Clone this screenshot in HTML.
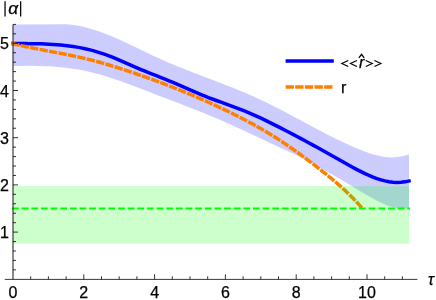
<!DOCTYPE html>
<html><head><meta charset="utf-8"><style>
html,body{margin:0;padding:0;background:#fff;}
svg{display:block;will-change:transform}
text{font-family:"Liberation Sans",sans-serif;font-size:16px;fill:#000;stroke:#000;stroke-width:0.25px}
</style></head><body>
<svg width="436" height="300" viewBox="0 0 436 300">
<rect width="436" height="300" fill="#fff"/>
<path d="M13.00,24.40 L66.00,24.31 L69.46,24.57 L72.93,24.96 L76.39,25.47 L79.86,26.10 L83.32,26.85 L86.79,27.69 L90.25,28.64 L93.72,29.68 L97.18,30.81 L100.65,32.02 L104.11,33.30 L107.58,34.65 L111.04,36.06 L114.51,37.52 L117.97,39.04 L121.43,40.59 L124.90,42.18 L128.36,43.80 L131.83,45.44 L135.29,47.09 L138.76,48.76 L142.22,50.43 L145.69,52.09 L149.15,53.75 L152.62,55.39 L156.08,57.00 L159.55,58.59 L163.01,60.15 L166.47,61.67 L169.94,63.15 L173.40,64.61 L176.87,66.05 L180.33,67.46 L183.80,68.85 L187.26,70.22 L190.73,71.58 L194.19,72.92 L197.66,74.26 L201.12,75.58 L204.59,76.91 L208.05,78.22 L211.52,79.54 L214.98,80.87 L218.44,82.19 L221.91,83.53 L225.37,84.88 L228.84,86.24 L232.30,87.61 L235.77,89.01 L239.23,90.42 L242.70,91.86 L246.16,93.33 L249.63,94.82 L253.09,96.35 L256.56,97.91 L260.02,99.51 L263.48,101.15 L266.95,102.82 L270.41,104.53 L273.88,106.27 L277.34,108.03 L280.81,109.82 L284.27,111.62 L287.74,113.45 L291.20,115.29 L294.67,117.13 L298.13,118.99 L301.60,120.84 L305.06,122.70 L308.53,124.56 L311.99,126.41 L315.45,128.25 L318.92,130.07 L322.38,131.89 L325.85,133.68 L329.31,135.45 L332.78,137.19 L336.24,138.91 L339.71,140.59 L343.17,142.24 L346.64,143.85 L350.10,145.41 L353.57,146.93 L357.03,148.41 L360.49,149.83 L363.96,151.19 L367.42,152.47 L370.89,153.65 L374.35,154.71 L377.82,155.62 L381.28,156.36 L384.75,156.92 L388.21,157.26 L391.68,157.38 L395.14,157.24 L398.61,156.87 L402.07,156.27 L405.54,155.46 L409.00,154.48 L409.00,207.40 L405.00,208.14 L401.00,208.30 L397.00,207.94 L393.00,207.13 L389.00,205.93 L385.00,204.41 L381.00,202.62 L377.00,200.63 L373.00,198.50 L369.00,196.28 L365.00,193.99 L361.00,191.64 L357.00,189.25 L353.00,186.84 L349.00,184.42 L345.00,182.02 L341.00,179.62 L337.00,177.25 L333.00,174.90 L329.00,172.57 L325.00,170.28 L321.00,168.02 L317.00,165.81 L313.00,163.63 L309.00,161.51 L305.00,159.44 L301.00,157.42 L297.00,155.47 L293.00,153.57 L289.00,151.70 L285.00,149.86 L281.00,148.02 L277.00,146.17 L273.00,144.31 L269.00,142.43 L265.00,140.56 L261.00,138.68 L257.00,136.79 L253.00,134.91 L249.00,133.04 L245.00,131.18 L241.00,129.32 L237.00,127.48 L233.00,125.66 L229.00,123.86 L225.00,122.08 L221.00,120.32 L217.00,118.60 L213.00,116.90 L209.00,115.23 L205.00,113.58 L201.00,111.96 L197.00,110.35 L193.00,108.76 L189.00,107.19 L185.00,105.63 L181.00,104.08 L177.00,102.54 L173.00,101.01 L169.00,99.48 L165.00,97.96 L161.00,96.43 L157.00,94.91 L153.00,93.38 L149.00,91.84 L145.00,90.30 L141.00,88.76 L137.00,87.23 L133.00,85.71 L129.00,84.21 L125.00,82.73 L121.00,81.29 L117.00,79.89 L113.00,78.53 L109.00,77.22 L105.00,75.97 L101.00,74.79 L97.00,73.67 L93.00,72.63 L89.00,71.68 L85.00,70.81 L81.00,70.03 L77.00,69.32 L73.00,68.69 L69.00,68.14 L65.00,67.65 L61.00,67.24 L57.00,66.88 L53.00,66.58 L49.00,66.34 L45.00,66.15 L41.00,66.01 L37.00,65.91 L33.00,65.85 L29.00,65.84 L25.00,65.85 L21.00,65.90 L17.00,65.97 L13.00,66.07Z" fill="#0000ff" fill-opacity="0.2"/>
<path d="M13.00,43.57 L17.00,43.59 L21.00,43.60 L25.00,43.62 L29.00,43.65 L33.00,43.70 L37.00,43.77 L41.00,43.87 L45.00,44.00 L49.00,44.18 L53.00,44.40 L57.00,44.68 L61.00,45.02 L65.00,45.43 L69.00,45.91 L73.00,46.47 L77.00,47.12 L81.00,47.86 L85.00,48.69 L89.00,49.63 L93.00,50.67 L97.00,51.81 L101.00,53.06 L105.00,54.42 L109.00,55.90 L113.00,57.49 L117.00,59.17 L121.00,60.91 L125.00,62.68 L129.00,64.44 L133.00,66.17 L137.00,67.86 L141.00,69.52 L145.00,71.15 L149.00,72.77 L153.00,74.37 L157.00,75.97 L161.00,77.57 L165.00,79.18 L169.00,80.81 L173.00,82.47 L177.00,84.15 L181.00,85.88 L185.00,87.64 L189.00,89.41 L193.00,91.18 L197.00,92.91 L201.00,94.59 L205.00,96.20 L209.00,97.76 L213.00,99.26 L217.00,100.74 L221.00,102.19 L225.00,103.64 L229.00,105.09 L233.00,106.55 L237.00,108.05 L241.00,109.58 L245.00,111.16 L249.00,112.81 L253.00,114.53 L257.00,116.32 L261.00,118.18 L265.00,120.10 L269.00,122.06 L273.00,124.06 L277.00,126.09 L281.00,128.15 L285.00,130.22 L289.00,132.30 L293.00,134.41 L297.00,136.52 L301.00,138.65 L305.00,140.80 L309.00,142.96 L313.00,145.13 L317.00,147.32 L321.00,149.52 L325.00,151.74 L329.00,153.97 L333.00,156.21 L337.00,158.46 L341.00,160.73 L345.00,163.00 L349.00,165.25 L353.00,167.47 L357.00,169.61 L361.00,171.67 L365.00,173.62 L369.00,175.44 L373.00,177.10 L377.00,178.57 L381.00,179.84 L385.00,180.88 L389.00,181.67 L393.00,182.19 L397.00,182.40 L401.00,182.29 L405.00,181.84 L409.00,181.01" fill="none" stroke="#0000ff" stroke-width="3.5" stroke-linecap="square"/>
<path d="M13.00,43.78 L13.94,44.00 L14.88,44.22 L15.82,44.44 L16.76,44.65 L17.70,44.87 M22.40,45.91 L23.34,46.11 L24.29,46.31 L25.23,46.51 L26.17,46.71 L27.12,46.90 M31.84,47.86 L32.79,48.05 L33.73,48.24 L34.68,48.43 L35.62,48.61 L36.57,48.80 M41.30,49.71 L42.25,49.89 L43.20,50.07 L44.14,50.25 L45.09,50.43 L46.04,50.60 M50.78,51.50 L51.72,51.68 L52.67,51.85 L53.62,52.03 L54.56,52.21 L55.51,52.39 M60.25,53.30 L61.19,53.48 L62.14,53.66 L63.08,53.85 L64.03,54.03 L64.98,54.22 M69.70,55.17 L70.65,55.36 L71.59,55.56 L72.53,55.75 L73.48,55.95 L74.42,56.15 M79.13,57.17 L80.07,57.38 L81.01,57.59 L81.95,57.80 L82.89,58.02 L83.83,58.24 M88.52,59.36 L89.46,59.59 L90.39,59.83 L91.33,60.06 L92.26,60.30 L93.19,60.54 M97.85,61.78 L98.78,62.04 L99.71,62.30 L100.64,62.56 L101.56,62.82 L102.49,63.08 M107.12,64.43 L108.04,64.70 L108.97,64.98 L109.89,65.26 L110.81,65.54 L111.74,65.82 M116.34,67.25 L117.26,67.54 L118.18,67.83 L119.09,68.12 L120.01,68.42 L120.93,68.71 M125.51,70.21 L126.43,70.51 L127.34,70.82 L128.26,71.12 L129.17,71.43 L130.08,71.73 M134.65,73.28 L135.56,73.59 L136.47,73.91 L137.38,74.22 L138.29,74.54 L139.21,74.85 M143.75,76.45 L144.66,76.77 L145.57,77.09 L146.48,77.42 L147.39,77.74 L148.29,78.07 M152.83,79.71 L153.73,80.04 L154.64,80.37 L155.54,80.70 L156.45,81.04 L157.35,81.37 M161.86,83.07 L162.76,83.41 L163.67,83.75 L164.57,84.09 L165.47,84.44 L166.37,84.78 M170.86,86.52 L171.76,86.87 L172.66,87.23 L173.55,87.58 L174.45,87.93 L175.35,88.29 M179.82,90.08 L180.71,90.44 L181.61,90.81 L182.50,91.17 L183.39,91.53 L184.28,91.90 M188.74,93.74 L189.63,94.11 L190.52,94.49 L191.40,94.86 L192.29,95.24 L193.18,95.61 M197.61,97.51 L198.50,97.89 L199.38,98.27 L200.27,98.66 L201.15,99.04 L202.03,99.43 M206.44,101.38 L207.32,101.77 L208.20,102.17 L209.08,102.56 L209.96,102.96 L210.84,103.36 M215.22,105.36 L216.10,105.76 L216.97,106.17 L217.85,106.57 L218.72,106.98 L219.59,107.39 M223.95,109.44 L224.82,109.86 L225.69,110.27 L226.56,110.69 L227.43,111.11 L228.30,111.53 M232.63,113.65 L233.49,114.08 L234.35,114.50 L235.22,114.94 L236.08,115.37 L236.94,115.80 M241.23,117.99 L242.09,118.43 L242.95,118.88 L243.80,119.32 L244.66,119.77 L245.51,120.22 M249.76,122.48 L250.61,122.94 L251.46,123.40 L252.30,123.87 L253.15,124.33 L253.99,124.79 M258.20,127.15 L259.04,127.63 L259.87,128.10 L260.71,128.58 L261.54,129.07 L262.38,129.55 M266.53,132.00 L267.36,132.49 L268.18,132.99 L269.01,133.49 L269.83,133.99 L270.65,134.49 M274.75,137.03 L275.56,137.55 L276.38,138.06 L277.19,138.58 L278.00,139.10 L278.81,139.63 M282.84,142.27 L283.65,142.80 L284.45,143.34 L285.25,143.88 L286.05,144.42 L286.84,144.96 M290.81,147.69 L291.60,148.24 L292.39,148.80 L293.18,149.35 L293.97,149.91 L294.76,150.46 M298.67,153.27 L299.45,153.84 L300.23,154.41 L301.01,154.98 L301.79,155.55 L302.57,156.12 M306.44,158.99 L307.21,159.57 L307.98,160.15 L308.75,160.73 L309.52,161.31 L310.29,161.89 M314.12,164.81 L314.88,165.40 L315.64,165.99 L316.41,166.58 L317.17,167.17 L317.93,167.76 M321.73,170.73 L322.48,171.33 L323.24,171.92 L324.00,172.52 L324.75,173.12 L325.51,173.72 M329.26,176.75 L330.00,177.36 L330.75,177.97 L331.49,178.58 L332.23,179.20 L332.97,179.82 M336.65,182.94 L337.38,183.57 L338.11,184.20 L338.83,184.83 L339.55,185.47 L340.28,186.11 M343.85,189.35 L344.55,190.01 L345.26,190.66 L345.96,191.32 L346.66,191.99 L347.35,192.65 M350.80,196.03 L351.48,196.71 L352.16,197.40 L352.83,198.08 L353.50,198.78 L354.17,199.47 M357.47,202.98 L358.12,203.69 L358.77,204.41 L359.42,205.12 L360.06,205.84 L360.70,206.56" fill="none" stroke="#ff8000" stroke-width="3.5" stroke-linecap="square"/>
<rect x="13.0" y="186.1" width="396.0" height="57.65" fill="#00ff00" fill-opacity="0.2"/>
<line x1="13.0" y1="208.4" x2="409.0" y2="208.4" stroke="#00ff00" stroke-width="2" stroke-dasharray="4.82 4.82" stroke-linecap="square"/>
<line x1="4.8" y1="279.40000000000003" x2="417.4" y2="279.40000000000003" stroke="#222" stroke-width="0.9"/>
<line x1="13.0" y1="279.3" x2="13.0" y2="24.42" stroke="#2a2a2a" stroke-width="1.1"/>
<g stroke="#000" stroke-width="0.8"><line x1="30.70" y1="279.30" x2="30.70" y2="276.30"/><line x1="48.40" y1="279.30" x2="48.40" y2="276.30"/><line x1="66.10" y1="279.30" x2="66.10" y2="276.30"/><line x1="83.80" y1="279.30" x2="83.80" y2="274.30"/><line x1="101.50" y1="279.30" x2="101.50" y2="276.30"/><line x1="119.20" y1="279.30" x2="119.20" y2="276.30"/><line x1="136.90" y1="279.30" x2="136.90" y2="276.30"/><line x1="154.60" y1="279.30" x2="154.60" y2="274.30"/><line x1="172.30" y1="279.30" x2="172.30" y2="276.30"/><line x1="190.00" y1="279.30" x2="190.00" y2="276.30"/><line x1="207.70" y1="279.30" x2="207.70" y2="276.30"/><line x1="225.40" y1="279.30" x2="225.40" y2="274.30"/><line x1="243.10" y1="279.30" x2="243.10" y2="276.30"/><line x1="260.80" y1="279.30" x2="260.80" y2="276.30"/><line x1="278.50" y1="279.30" x2="278.50" y2="276.30"/><line x1="296.20" y1="279.30" x2="296.20" y2="274.30"/><line x1="313.90" y1="279.30" x2="313.90" y2="276.30"/><line x1="331.60" y1="279.30" x2="331.60" y2="276.30"/><line x1="349.30" y1="279.30" x2="349.30" y2="276.30"/><line x1="367.00" y1="279.30" x2="367.00" y2="274.30"/><line x1="384.70" y1="279.30" x2="384.70" y2="276.30"/><line x1="402.40" y1="279.30" x2="402.40" y2="276.30"/><line x1="13.00" y1="269.86" x2="16.00" y2="269.86"/><line x1="13.00" y1="260.42" x2="16.00" y2="260.42"/><line x1="13.00" y1="250.98" x2="16.00" y2="250.98"/><line x1="13.00" y1="241.54" x2="16.00" y2="241.54"/><line x1="13.00" y1="232.10" x2="18.00" y2="232.10"/><line x1="13.00" y1="222.66" x2="16.00" y2="222.66"/><line x1="13.00" y1="213.22" x2="16.00" y2="213.22"/><line x1="13.00" y1="203.78" x2="16.00" y2="203.78"/><line x1="13.00" y1="194.34" x2="16.00" y2="194.34"/><line x1="13.00" y1="184.90" x2="18.00" y2="184.90"/><line x1="13.00" y1="175.46" x2="16.00" y2="175.46"/><line x1="13.00" y1="166.02" x2="16.00" y2="166.02"/><line x1="13.00" y1="156.58" x2="16.00" y2="156.58"/><line x1="13.00" y1="147.14" x2="16.00" y2="147.14"/><line x1="13.00" y1="137.70" x2="18.00" y2="137.70"/><line x1="13.00" y1="128.26" x2="16.00" y2="128.26"/><line x1="13.00" y1="118.82" x2="16.00" y2="118.82"/><line x1="13.00" y1="109.38" x2="16.00" y2="109.38"/><line x1="13.00" y1="99.94" x2="16.00" y2="99.94"/><line x1="13.00" y1="90.50" x2="18.00" y2="90.50"/><line x1="13.00" y1="81.06" x2="16.00" y2="81.06"/><line x1="13.00" y1="71.62" x2="16.00" y2="71.62"/><line x1="13.00" y1="62.18" x2="16.00" y2="62.18"/><line x1="13.00" y1="52.74" x2="16.00" y2="52.74"/><line x1="13.00" y1="43.30" x2="18.00" y2="43.30"/><line x1="13.00" y1="33.86" x2="16.00" y2="33.86"/><line x1="13.00" y1="24.42" x2="16.00" y2="24.42"/></g>
<text x="13.00" y="298" text-anchor="middle">0</text><text x="83.80" y="298" text-anchor="middle">2</text><text x="154.60" y="298" text-anchor="middle">4</text><text x="225.40" y="298" text-anchor="middle">6</text><text x="296.20" y="298" text-anchor="middle">8</text><text x="367.00" y="298" text-anchor="middle">10</text><text x="9" y="238.10" text-anchor="end">1</text><text x="9" y="190.90" text-anchor="end">2</text><text x="9" y="143.70" text-anchor="end">3</text><text x="9" y="96.50" text-anchor="end">4</text><text x="9" y="49.30" text-anchor="end">5</text>
<g stroke="#000" stroke-width="1.25"><line x1="5.05" y1="1.2" x2="5.05" y2="16.6"/><line x1="20.65" y1="1.2" x2="20.65" y2="16.6"/></g>
<text transform="translate(8.3,13.6) scale(1.09,1)" font-style="italic" font-size="17.5">α</text>
<text x="428" y="284.7" font-style="italic">τ</text>
<line x1="285.6" y1="61.1" x2="333.8" y2="61.1" stroke="#0000ff" stroke-width="3.5"/>
<line x1="287.35" y1="87.1" x2="333" y2="87.1" stroke="#ff8000" stroke-width="3.5" stroke-dasharray="4.82 4.82" stroke-linecap="square"/>
<g fill="none" stroke="#000" stroke-width="1.15" stroke-linejoin="miter"><polyline points="348.30,60.5 341.80,63.5 348.30,66.5"/><polyline points="356.95,60.5 350.45,63.5 356.95,66.5"/><polyline points="365.80,60.5 372.30,63.5 365.80,66.5"/><polyline points="374.40,60.5 380.90,63.5 374.40,66.5"/></g>
<text x="359.1" y="67.6" font-style="italic" font-size="14.5">r</text>
<polyline points="358.9,57.8 361.55,54.3 364.2,57.8" fill="none" stroke="#000" stroke-width="1.3"/>
<text x="341" y="92.9" font-size="15" stroke-width="0.12">r</text>
</svg>
</body></html>
